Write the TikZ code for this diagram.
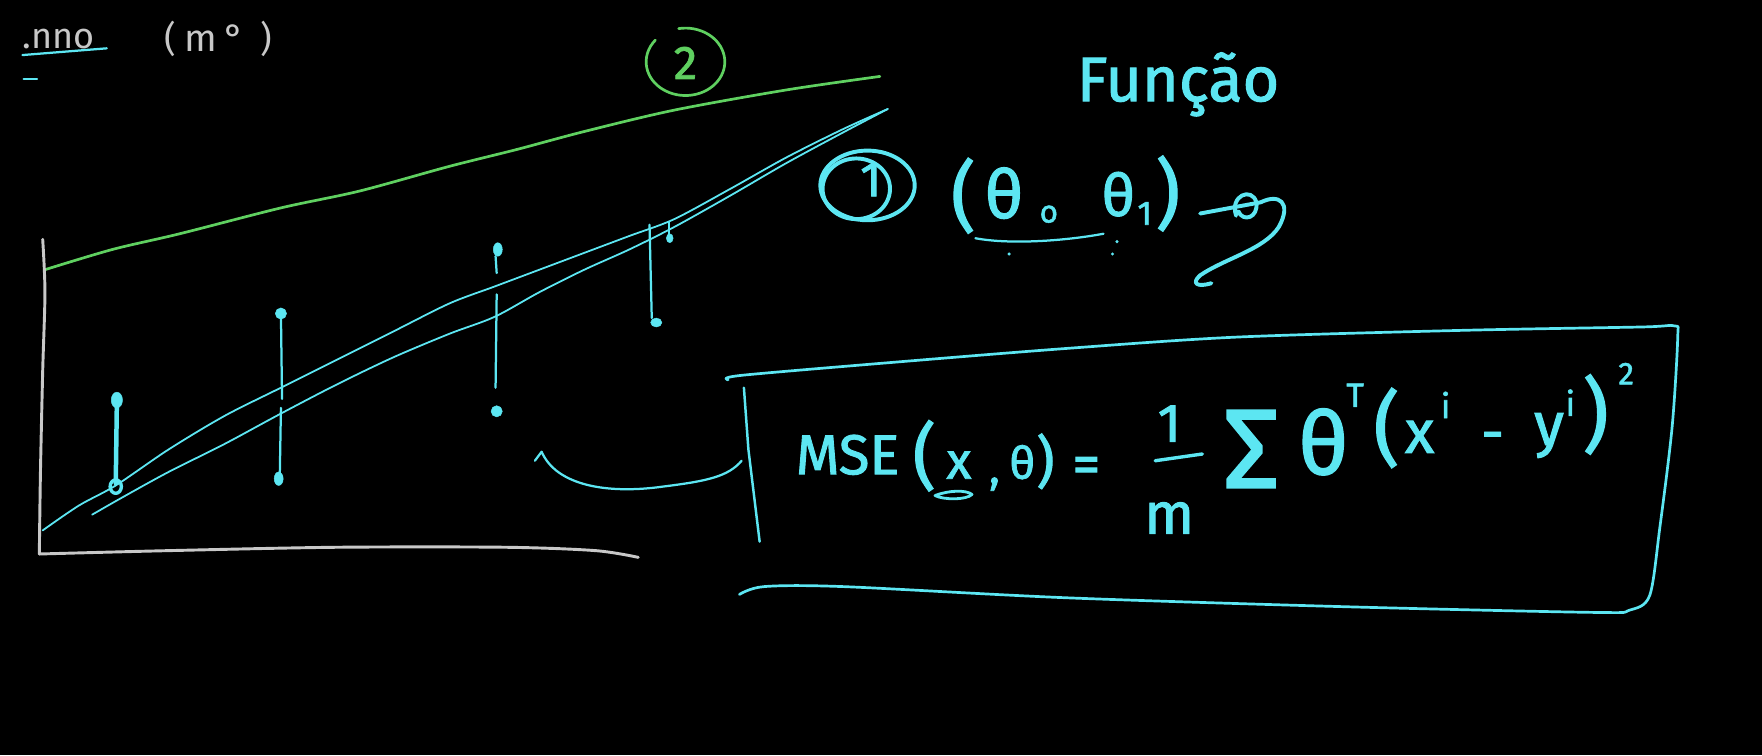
\documentclass[tikz,border=0pt]{standalone}
\usepackage{fontspec}
\setmainfont{Fira Sans}
\newfontfamily\hw[FakeBold=1.6]{Fira Sans}
\definecolor{cy}{HTML}{5CE6F2}
\definecolor{gr}{HTML}{5FD060}
\definecolor{gy}{HTML}{C8C8C8}
\tikzset{
  cyline/.style={draw=cy,line width=2pt,line cap=round,line join=round},
  grline/.style={draw=gr,line width=2.4pt,line cap=round},
  gyline/.style={draw=gy,line width=2.6pt,line cap=round},
  cytxt/.style={text=cy,inner sep=0pt,anchor=base west,font=\hw},
  gytxt/.style={text=gy,inner sep=0pt,anchor=base west},
  blob/.style={fill=cy,draw=cy}
}
\newcommand{\fs}[1]{\fontsize{#1}{#1}\selectfont}
\begin{document}
\begin{tikzpicture}[x=1pt,y=-1pt]
\fill[black] (0,0) rectangle (1568,672);
\useasboundingbox (0,0) rectangle (1568,672);
% top-left notes
\node[gytxt] (ano) at (20,43) {\fs{32}.nno};
\node[gytxt] (mq1) at (146,46) {\fs{32}(};
\node[gytxt] (mq2) at (164,46) {\fs{34}m};
\node[gytxt] (mq3) at (200,46) {\fs{34}°};
\node[gytxt] (mq4) at (232,46) {\fs{32})};
\draw[cyline] (20,49) -- (95,43);
\draw[cyline] (21,70) -- (33,70);
% green circled 2 and line
\draw[grline] (610,55) ++(260:35 and 30) arc[start angle=260,end angle=580,x radius=35,y radius=30];
\node[text=gr,inner sep=0pt,font=\hw] (two) at (610,56) {\fs{42}2};
\draw[grline] plot[smooth] coordinates {(40,240) (100,222) (160,208) (250,185) (320,170) (400,148) (460,133) (520,117) (600,98) (700,80) (783,68)};
% axes
\draw[gyline] plot[smooth] coordinates {(38,213) (40,260) (38,330) (36,420) (35,493)};
\draw[gyline] plot[smooth] coordinates {(35,493) (150,490) (300,487) (450,487) (530,490) (568,496)};
% two fitted lines
\draw[cyline,line width=1.6pt] plot[smooth] coordinates {(38,472) (70,450) (103,432) (150,400) (200,370) (250,345) (300,320) (350,295) (400,270) (440,255) (480,240) (520,225) (560,210) (600,195) (650,168) (700,140) (750,115) (790,97)};
\draw[cyline,line width=1.6pt] plot[smooth] coordinates {(82,458) (110,442) (150,420) (200,395) (250,368) (300,342) (350,318) (400,297) (440,282) (480,260) (520,240) (560,222) (600,202) (650,174) (700,145) (750,118) (790,97)};
% data points
\draw[cyline,line width=4pt] (104,358) -- (103,430);
\fill[blob] (104,356) ellipse (5 and 7);
\draw[cyline,line width=3pt] (103,433) ellipse (5 and 6);
\draw[cyline] (250,280) -- (251,355);
\draw[cyline] (250,363) -- (249,422);
\fill[blob] (250,279) ellipse (5 and 5);
\fill[blob] (248,426) ellipse (4 and 6);
\draw[cyline] (441,228) -- (442,243);
\draw[cyline] (442,262) -- (441,345);
\fill[blob] (443,222) ellipse (4 and 6);
\fill[blob] (442,366) ellipse (5 and 5);
\draw[cyline] (578,200) -- (580,283);
\fill[blob] (584,287) ellipse (5 and 4);
\draw[cyline] (595,198) -- (595,212);
\fill[blob] (596,212) ellipse (3 and 4);
% connector curve to box
\draw[cyline] (476,410) -- (482,402) .. controls (495,432) and (540,440) .. (590,433) .. controls (630,428) and (648,424) .. (660,410);
% Funcao
\node[cytxt] (func) at (958,90) {\fs{56}Função};
% circled 1
\draw[cyline,line width=3.5pt] (772,165) ellipse (42 and 31);
\draw[cyline,line width=3.5pt] (762,168) ellipse (30 and 27);
\node[text=cy,inner sep=0pt,font=\hw] (one) at (775,160) {\fs{44}1};
% (theta0 theta1)
\node[cytxt] (lp) at (846,198) {\fs{68}(};
\node[cytxt] (t0) at (876,194) {\fs{60}θ};
\node[cytxt] (s0) at (925,198) {\fs{28}o};
\node[cytxt] (t1) at (980,192) {\fs{52}θ};
\node[cytxt] (s1) at (1012,200) {\fs{30}1};
\node[cytxt] (rp) at (1028,196) {\fs{68})};
\draw[cyline] (868,212) .. controls (900,218) and (950,214) .. (982,208);
\fill[cy] (898,226) circle (1.5) (990,226) circle (1.5) (994,215) circle (1.5);
% arrow scribble
\draw[cyline,line width=3.5pt] (1068,190) -- (1122,180);
\draw[cyline,line width=3.5pt] (1100,192) .. controls (1094,174) and (1114,166) .. (1118,180) .. controls (1120,194) and (1106,198) .. (1102,188);
\draw[cyline,line width=3.5pt] (1122,180) .. controls (1138,172) and (1150,180) .. (1138,202) .. controls (1125,222) and (1090,230) .. (1068,245) .. controls (1060,252) and (1065,256) .. (1078,252);
% box
\draw[cyline,line width=2.4pt] plot[smooth] coordinates {(648,338) (660,334) (800,322) (950,310) (1100,300) (1300,294) (1460,291) (1490,290) (1493,300) (1488,380) (1477,470) (1468,530) (1450,543) (1420,545) (1200,540) (950,532) (750,522) (680,522) (658,529)};
\draw[cyline,line width=2.2pt] (662,345) -- (666,400) -- (676,482);
% formula
\node[cytxt] (mse) at (708,422) {\fs{50}MSE};
\node[cytxt] (p1) at (812,428) {\fs{64}(};
\node[cytxt] (xx) at (842,426) {\fs{46}x};
\node[cytxt] (cm) at (880,430) {\fs{40},};
\node[cytxt] (th) at (898,426) {\fs{40}θ};
\node[cytxt] (p2) at (922,428) {\fs{50})};
\node[cytxt] (eq) at (954,430) {\fs{50}=};
\draw[cyline,line width=2.5pt] (832,441) .. controls (845,436) and (860,436) .. (865,440) .. controls (860,445) and (840,445) .. (832,441);
\node[cytxt] (n1) at (1030,393) {\fs{48}1};
\draw[cyline,line width=3pt] (1028,410) -- (1070,404);
\node[cytxt] (nm) at (1018,475) {\fs{52}m};
\node[cytxt] (sig) at (1088,434) {\fs{100}Σ};
\node[cytxt] (big) at (1155,422) {\fs{78}θ};
\node[cytxt] (tt) at (1198,362) {\fs{30}T};
\node[cytxt] (p3) at (1222,406) {\fs{72}(};
\node[cytxt] (x2) at (1250,403) {\fs{54}x};
\node[cytxt] (i1) at (1282,372) {\fs{30}i};
\node[cytxt] (mi) at (1318,402) {\fs{50}-};
\node[cytxt] (y2) at (1365,396) {\fs{54}y};
\node[cytxt] (i2) at (1393,370) {\fs{30}i};
\node[cytxt] (p4) at (1408,394) {\fs{72})};
\node[cytxt] (sq) at (1440,342) {\fs{28}2};
\end{tikzpicture}
\end{document}
